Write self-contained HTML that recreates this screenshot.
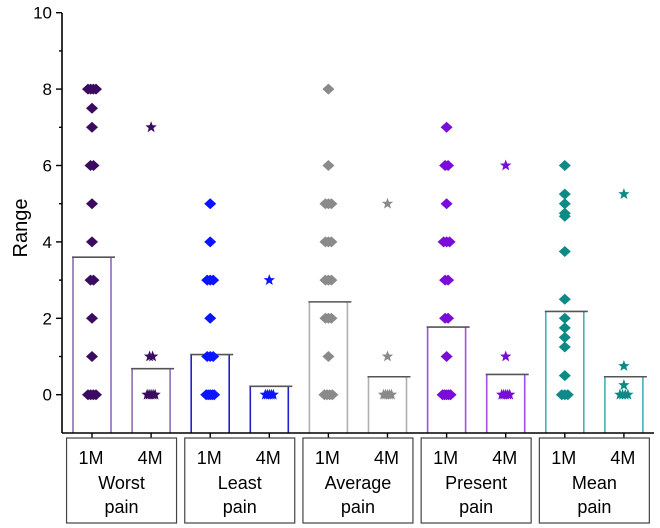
<!DOCTYPE html>
<html><head><meta charset="utf-8"><style>
body{margin:0;background:#fff;}
svg{display:block;font-family:"Liberation Sans",sans-serif;}
</style></head><body>
<svg id="chart" width="660" height="528" viewBox="0 0 660 528">
<g id="plot"></g>
</svg>
<script>
const groups=["Worst","Least","Average","Present","Mean"];
const times=["1M","4M"];
const means=[3.6,0.68,1.05,0.22,2.43,0.47,1.77,0.53,2.18,0.47];
const worst1=[8,8,8,8,7.5,7,6,6,5,4,3,3,2,1,0,0,0,0];
const worst4=[7,1,1,0,0,0,0,0];
const least1=[5,4,3,3,3,2,1,1,1,0,0,0,0,0];
const least4=[3,0,0,0,0,0];
const avg1=[8,6,5,5,5,4,4,4,3,3,3,2,2,2,1,0,0,0,0];
const avg4=[5,1,0,0,0,0,0];
const pres1=[7,6,6,5,4,4,4,3,3,2,2,1,0,0,0,0,0];
const pres4=[6,1,0,0,0,0,0];
const mean1=[6,5.25,5,4.75,4.67,3.75,2.5,2,1.75,1.5,1.25,0.5,0,0,0];
const mean4=[5.25,0.75,0.25,0,0,0,0];
const yTicks=[0,2,4,6,8,10];
const series=[worst1,worst4,least1,least4,avg1,avg4,pres1,pres4,mean1,mean4];
const markColors=["#3b0b5f","#3b0b5f","#0a14ff","#0a14ff","#8a8a8a","#8a8a8a","#7a0cda","#7a0cda","#0e8a86","#0e8a86"];
const barColors=["#8c6db4","#8c6db4","#2222cc","#2222cc","#b0b0b0","#b0b0b0","#a050e6","#a050e6","#44b3b3","#44b3b3"];
const NS="http://www.w3.org/2000/svg";
const g=document.getElementById('plot');
function y(v){return 394.7-38.2*v;}
function x(i){return 92+i*59.1;}
function el(t,a){const e=document.createElementNS(NS,t);for(const k in a)e.setAttribute(k,a[k]);g.appendChild(e);return e;}
means.forEach((m,i)=>{
  const cx=x(i),c=barColors[i];
  let e=el('path',{d:`M${cx-19},433V${y(m)}M${cx+19},433V${y(m)}`,stroke:c,'stroke-width':1.6,fill:'none'});
  
  
  e=el('line',{x1:cx-20,x2:cx+23,y1:y(m),y2:y(m),stroke:'#555',"stroke-width":1.6});
  
  
});
function star(cx,cy,r){let p=[];for(let k=0;k<10;k++){const a=-Math.PI/2+k*Math.PI/5,rr=k%2?r*0.42:r;p.push((cx+rr*Math.cos(a)).toFixed(1)+','+(cy+rr*Math.sin(a)).toFixed(1));}return p.join(' ');}
series.forEach((arr,i)=>{
  const cnt={},seen={};
  arr.forEach(v=>cnt[v]=(cnt[v]||0)+1);
  arr.forEach(v=>{
    seen[v]=(seen[v]||0);const n=cnt[v],k=seen[v]++;
    const off=n>1?(k-(n-1)/2)*Math.min(3,8/(n-1)):0;
    const cx=x(i)+off,cy=y(v);let e;
    if(i%2===0){e=el('polygon',{points:`${cx},${cy-5.5} ${cx+6},${cy} ${cx},${cy+5.5} ${cx-6},${cy}`,fill:markColors[i]});}
    else{e=el('polygon',{points:star(cx,cy,6),fill:markColors[i]});}
    
    
  });
});
let e=el('line',{x1:62,x2:62,y1:13,y2:433,stroke:'#000','stroke-width':1.6});


e=el('line',{x1:62,x2:654,y1:433,y2:433,stroke:'#000','stroke-width':1.6});


for(let v=0;v<=10;v++){
  const major=v%2===0;
  e=el('line',{x1:major?56:59,x2:62,y1:y(v),y2:y(v),stroke:'#000','stroke-width':1.4});
  
  
}
yTicks.forEach(v=>{
  const t=el('text',{x:52,y:y(v)+6,'text-anchor':'end','font-size':17,fill:'#000'});
  t.textContent=v;
  
  
});
e=el('text',{x:0,y:0,transform:'translate(27,228) rotate(-90)','text-anchor':'middle','font-size':20,fill:'#000'});
e.textContent='Range';


means.forEach((m,i)=>{
  e=el('line',{x1:x(i),x2:x(i),y1:433,y2:438,stroke:'#000','stroke-width':1.4});
  
  
});
groups.forEach((name,j)=>{
  const cx=(x(2*j)+x(2*j+1))/2;
  e=el('rect',{x:cx-55,y:438,width:110,height:85,fill:'none',stroke:'#444','stroke-width':1.2});
  
  
  times.forEach((tm,k)=>{
    const t=el('text',{x:x(2*j+k)-1,y:464,'text-anchor':'middle','font-size':18,fill:'#000'});
    t.textContent=tm;
    
    
  });
  let t=el('text',{x:cx,y:489,'text-anchor':'middle','font-size':18,fill:'#000'});
  t.textContent=name;
  
  
  t=el('text',{x:cx,y:513,'text-anchor':'middle','font-size':18,fill:'#000'});
  t.textContent='pain';
  
  
});
</script>
</body></html>
